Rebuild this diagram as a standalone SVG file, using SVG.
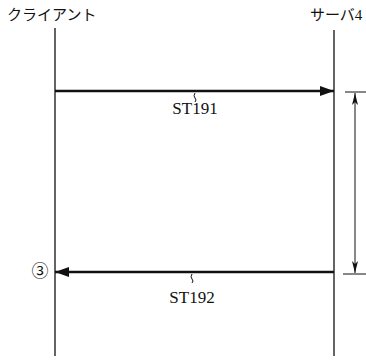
<svg xmlns="http://www.w3.org/2000/svg" width="366" height="360" viewBox="0 0 366 360">
<style>
.t{font-family:"Liberation Serif","Noto Sans CJK JP",serif;font-size:15px;fill:#111}
.lbl{font-family:"Liberation Serif",serif;font-size:17px;fill:#111}
.life{stroke:#111;stroke-width:1.3;fill:none}
.msg{stroke:#111;stroke-width:2.6;fill:none}
.thin{stroke:#111;stroke-width:1;fill:none}
</style>
<defs>
<marker id="ah" viewBox="0 0 14 10" refX="14" refY="5" markerWidth="14" markerHeight="10" markerUnits="userSpaceOnUse" orient="auto">
<path d="M0,0 L14,5 L0,10 Z" fill="#111"/>
</marker>
<marker id="dh" viewBox="0 0 12 8" refX="12" refY="4" markerWidth="12" markerHeight="8" markerUnits="userSpaceOnUse" orient="auto-start-reverse">
<path d="M0,1 L12,4 L0,7 L3,4 Z" fill="#111"/>
</marker>
</defs>
<g id="client">
<text class="t" x="7" y="20">クライアント</text>
<line class="life" x1="55" y1="28" x2="55" y2="356"/>
</g>
<g id="server">
<text class="t" x="310" y="20">サーバ4</text>
<line class="life" x1="334" y1="30" x2="334" y2="356"/>
</g>
<g id="connectors">
<line class="msg" x1="55" y1="91" x2="334" y2="91" marker-end="url(#ah)"/>
<path class="thin" d="M195,93 q-2,3 0,5 q2,2 0,4"/>
<text class="lbl" x="195" y="114" text-anchor="middle">ST191</text>
<line class="msg" x1="334" y1="272" x2="55" y2="272" marker-end="url(#ah)"/>
<path class="thin" d="M192,274 q-2,3 0,5 q2,2 0,4"/>
<text class="lbl" x="192" y="303" text-anchor="middle">ST192</text>
<text class="t" x="40" y="277" text-anchor="middle" style="font-size:17px">③</text>
</g>
<g id="dimension">
<line class="thin" x1="345" y1="92" x2="366" y2="92"/>
<line class="thin" x1="343" y1="274" x2="366" y2="274"/>
<line class="thin" x1="355" y1="93" x2="355" y2="273" marker-start="url(#dh)" marker-end="url(#dh)"/>
</g>
</svg>
